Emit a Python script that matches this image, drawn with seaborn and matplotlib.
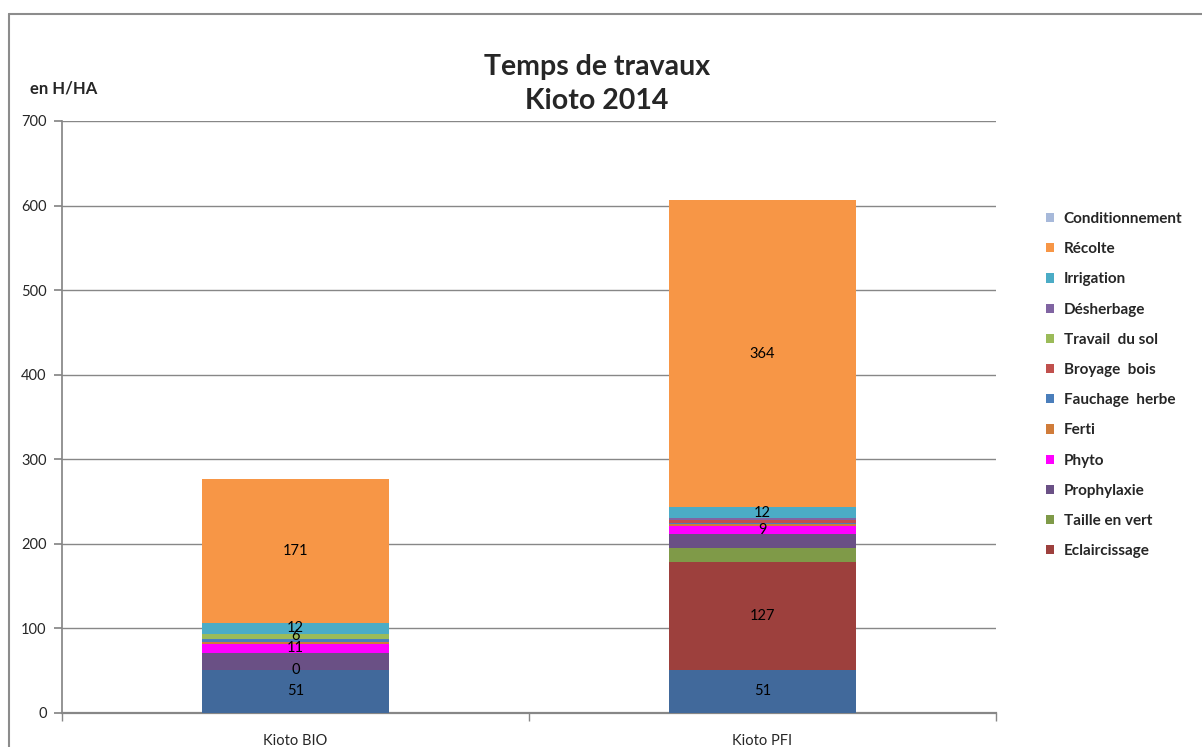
"""
Temps de travaux Kioto 2014 - stacked bars (h/ha) per itinerary.
"""

import matplotlib
matplotlib.use("Agg")
import matplotlib.pyplot as plt
from matplotlib.lines import Line2D
from matplotlib.patches import Patch
import pandas as pd
import seaborn as sns

categories = ["Kioto BIO", "Kioto PFI"]

# stacking order, bottom to top ("Taille hiver" is not shown in the legend)
series = [
    "Taille hiver", "Eclaircissage", "Taille en vert", "Prophylaxie", "Phyto",
    "Ferti", "Fauchage  herbe", "Broyage  bois", "Travail  du sol",
    "Désherbage", "Irrigation", "Récolte", "Conditionnement",
]
bio_values = [51, 0, 0, 20, 11, 2, 3, 1, 6, 0, 12, 171, 0]
pfi_values = [51, 127, 17, 17, 9, 2, 2, 3, 0, 3, 12, 364, 0]

# segments carrying a data label
labelled_bio = ["Taille hiver", "Eclaircissage", "Phyto", "Travail  du sol", "Irrigation", "Récolte"]
labelled_pfi = ["Taille hiver", "Eclaircissage", "Phyto", "Irrigation", "Récolte"]

colors = {
    "Taille hiver": "#41699B",
    "Eclaircissage": "#9D403D",
    "Taille en vert": "#7F9A48",
    "Prophylaxie": "#6A5085",
    "Phyto": "#FF00FF",
    "Ferti": "#D07C3A",
    "Fauchage  herbe": "#4A7EBB",
    "Broyage  bois": "#C0504D",
    "Travail  du sol": "#9BBB59",
    "Désherbage": "#8064A2",
    "Irrigation": "#4BACC6",
    "Récolte": "#F79646",
    "Conditionnement": "#A7B9DA",
}

sns.set_theme(style="white")
plt.rcParams["font.family"] = ["Lato", "DejaVu Sans"]

rows = []
for cat, vals, labelled in [(categories[0], bio_values, labelled_bio),
                            (categories[1], pfi_values, labelled_pfi)]:
    cumul = 0
    for name, v in zip(series, vals):
        cumul += v
        rows.append({"categorie": cat, "serie": name, "valeur": v,
                     "cumul": cumul, "label": name in labelled})
df = pd.DataFrame(rows)

fig = plt.figure(figsize=(12.02, 7.47), dpi=100)
ax = fig.add_axes([62 / 1202, 34 / 747, 934 / 1202, 592 / 747])

# overlapping cumulative bars, drawn from the top series down
for name in reversed(series):
    sub = df[df["serie"] == name]
    sns.barplot(data=sub, x="categorie", y="cumul", order=categories,
                color=colors[name], saturation=1, width=0.4, errorbar=None,
                linewidth=0, ax=ax, zorder=3)

for _, r in df[df["label"]].iterrows():
    xpos = categories.index(r["categorie"])
    ax.text(xpos, r["cumul"] - r["valeur"] / 2, f"{r['valeur']:.0f}",
            ha="center", va="center", fontsize=10.5, color="black", zorder=5)

grey = "#878787"
ax.set_ylim(0, 700)
ax.set_xlim(-0.5, 1.5)
ax.set_yticks(range(0, 701, 100))
ax.yaxis.grid(True, color=grey, linewidth=1)
ax.set_axisbelow(True)
ax.set_xlabel("")
ax.set_ylabel("")
for side in ["top", "right"]:
    ax.spines[side].set_visible(False)
ax.spines["left"].set_color(grey)
ax.spines["bottom"].set_color(grey)
ax.spines["bottom"].set_linewidth(1.6)
ax.tick_params(axis="y", direction="out", length=6, color=grey, labelsize=10.5,
               left=True, pad=5)
ax.tick_params(axis="x", which="major", length=0, labelsize=10.5, pad=15)
ax.set_xticks([-0.5, 0.5, 1.5], minor=True)
ax.tick_params(axis="x", which="minor", direction="out", length=6, color=grey,
               bottom=True)

fig.text(597 / 1202, 1 - 84 / 747, "Temps de travaux\nKioto 2014", ha="center",
         va="center", fontsize=20.5, fontweight="bold", linespacing=1.4)
fig.text(30 / 1202, 1 - 88 / 747, "en H/HA", ha="left", va="center",
         fontsize=12, fontweight="bold")

handles = [Patch(facecolor=colors[name], edgecolor="none", label=name)
           for name in reversed(series[1:])]
fig.legend(handles=handles, loc="upper left",
           bbox_to_anchor=(1046 / 1202, 1 - 212 / 747), frameon=False,
           prop={"size": 11, "weight": "bold"}, handlelength=0.55,
           handleheight=0.55, handletextpad=0.6, labelspacing=1.06,
           borderpad=0, borderaxespad=0)

# chart area frame
fig.add_artist(Line2D([9 / 1202, 9 / 1202], [-0.1, 1 - 14 / 747],
                      transform=fig.transFigure, color="#8C8C8C", linewidth=1.5))
fig.add_artist(Line2D([9 / 1202, 1.0], [1 - 14 / 747, 1 - 14 / 747],
                      transform=fig.transFigure, color="#8C8C8C", linewidth=1.5))

fig.savefig("out.png", dpi=100)
plt.close(fig)
